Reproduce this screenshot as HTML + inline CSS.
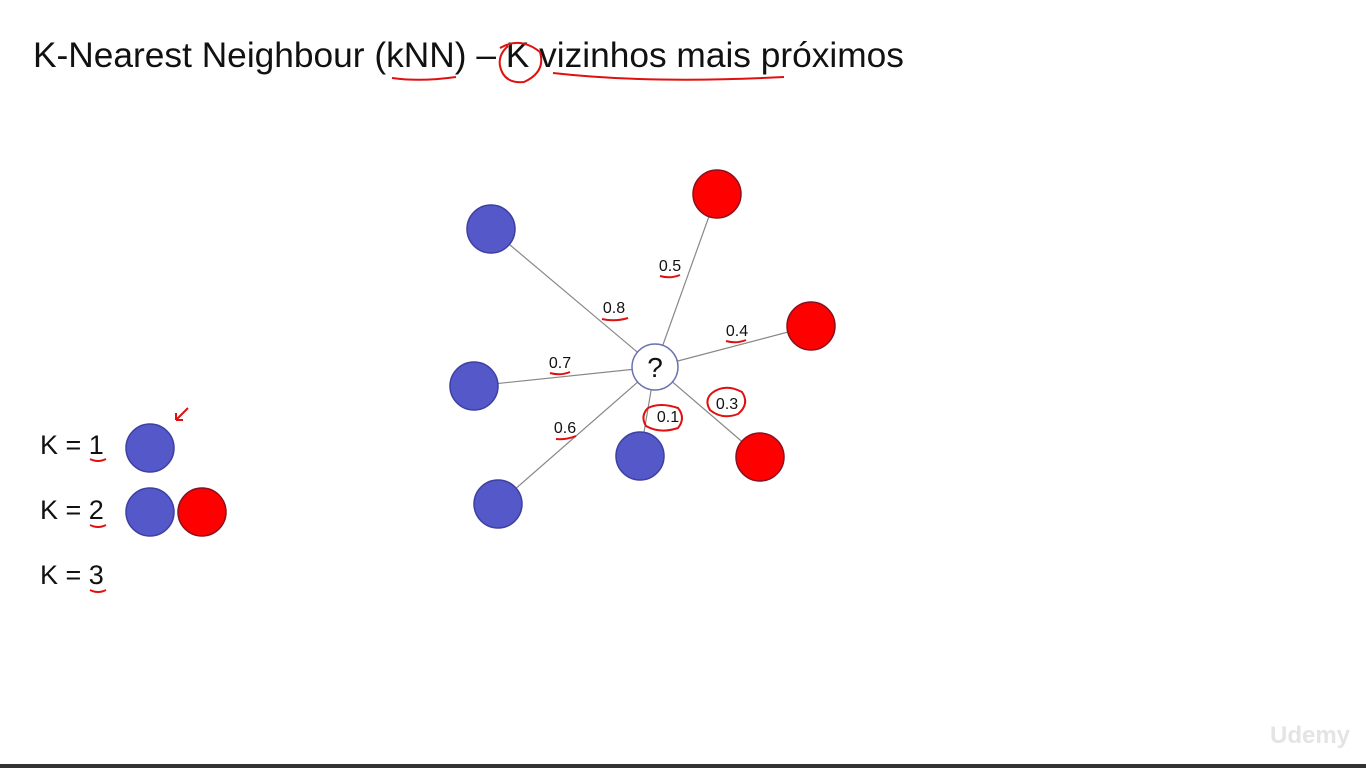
<!DOCTYPE html>
<html><head><meta charset="utf-8"><style>
html,body{margin:0;padding:0;background:#fff;}
body{width:1366px;height:768px;overflow:hidden;position:relative;font-family:"Liberation Sans",sans-serif;}
#title{position:absolute;left:33px;top:36px;font-size:35.3px;color:#111;white-space:nowrap;}
.k{position:absolute;left:40px;font-size:27px;color:#111;}
#bar{position:absolute;left:0;top:764px;width:1366px;height:4px;background:#333;}
#wm{position:absolute;left:1270px;top:722px;font-size:24px;color:#e4e4e4;font-weight:bold;}
</style></head><body>
<div id="title">K-Nearest Neighbour (kNN) – K vizinhos mais próximos</div>
<div class="k" style="top:430px">K = 1</div>
<div class="k" style="top:495px">K = 2</div>
<div class="k" style="top:560px">K = 3</div>
<div id="wm">Udemy</div>
<div id="bar"></div>
<svg id="svg" width="1366" height="768" style="position:absolute;left:0;top:0"></svg>
<script>
const labels = ["0.8","0.5","0.4","0.7","0.3","0.1","0.6"];
const classes = ["blue","red","red","blue","red","blue","blue"];
const nodeX = [491,717,811,474,760,640,498];
const nodeY = [229,194,326,386,457,456,504];
const labelX = [614,670,737,560,727,668,565];
const labelY = [313,271,336,368,409,422,433];
const center = [655,367];
const NS="http://www.w3.org/2000/svg";
const svg=document.getElementById('svg');
function mk(t,a){const e=document.createElementNS(NS,t);for(const k in a)e.setAttribute(k,a[k]);svg.appendChild(e);return e;}
const fill={blue:"#5558c8",red:"#ff0000"}, stroke={blue:"#3d40a0",red:"#8a1020"};
for(let i=0;i<labels.length;i++){
  const l=mk('line',{x1:center[0],y1:center[1],x2:nodeX[i],y2:nodeY[i],stroke:"#888","stroke-width":1.2});
  
  
}
for(let i=0;i<labels.length;i++){
  const c=mk('circle',{cx:nodeX[i],cy:nodeY[i],r:24,fill:fill[classes[i]],stroke:stroke[classes[i]],"stroke-width":1.5});
  
  
  const t=mk('text',{x:labelX[i],y:labelY[i],"font-size":16,"text-anchor":"middle","font-family":"Liberation Sans, sans-serif",fill:"#111"});
  t.textContent=labels[i];
  
  
}
const q=mk('circle',{cx:center[0],cy:center[1],r:23,fill:"#fff",stroke:"#6a72b0","stroke-width":1.5});


const qt=mk('text',{x:center[0],y:center[1]+10,"font-size":28,"text-anchor":"middle","font-family":"Liberation Sans, sans-serif",fill:"#111"});
qt.textContent="?";


[[150,448,"blue"],[150,512,"blue"],[202,512,"red"]].forEach((p,i)=>{
  const c=mk('circle',{cx:p[0],cy:p[1],r:24,fill:fill[p[2]],stroke:stroke[p[2]],"stroke-width":1.5});
  
  
});
const ann=["M392 78 Q420 82 456 77","M500 48 Q520 36 540 52 Q546 72 524 82 Q504 84 500 66 Q498 55 508 46",
"M553 73 Q650 84 784 77","M660 276 Q670 279 680 275","M602 319 Q615 322 628 318","M726 341 Q736 344 746 340",
"M550 373 Q560 376 570 372","M556 439 Q566 440 576 436","M712 393 Q725 383 742 392 Q750 404 738 414 Q722 420 710 410 Q704 400 712 393",
"M648 408 Q660 402 678 408 Q686 418 678 428 Q660 434 646 426 Q640 416 648 408","M90 459 Q98 463 106 459","M90 525 Q98 529 106 525","M90 590 Q98 594 106 590","M176 420 L188 408 M176 420 L176 413 M176 420 L183 420"];
ann.forEach((d,i)=>{const p=mk('path',{d:d,fill:"none",stroke:"#e01010","stroke-width":2});
  
  });
</script>
</body></html>
